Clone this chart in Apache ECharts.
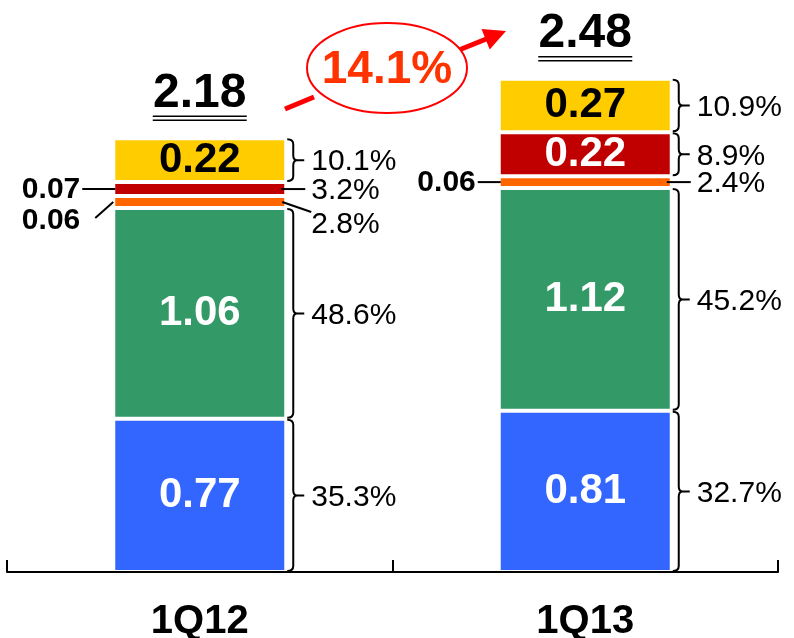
<!DOCTYPE html>
<html><head><meta charset="utf-8">
<script src="https://cdn.jsdelivr.net/npm/echarts@6/dist/echarts.min.js"></script>
<style>html,body{margin:0;padding:0;background:#fff}#c{width:794px;height:638px}</style>
</head><body><div id="c"></div>
<script>
// ---- data ----
const categories = ['1Q12', '1Q13'];
const seriesNames = ['Blue', 'Green', 'Orange', 'Red', 'Yellow'];
const blueValues = [0.77, 0.81];
const greenValues = [1.06, 1.12];
const orangeValues = [0.06, 0.06];
const redValues = [0.07, 0.22];
const yellowValues = [0.22, 0.27];
const totals = [2.18, 2.48];
const bluePct = [35.3, 32.7];
const greenPct = [48.6, 45.2];
const orangePct = [2.8, 2.4];
const redPct = [3.2, 8.9];
const yellowPct = [10.1, 10.9];
const growthLabel = '14.1%';

// ---- styling ----
const FONT = '"Liberation Sans", Arial, sans-serif';
const values = [blueValues, greenValues, orangeValues, redValues, yellowValues];
const pcts = [bluePct, greenPct, orangePct, redPct, yellowPct];
const colors = ['#3366FF', '#339966', '#FF6600', '#C00000', '#FFCC00'];
const labelColors = ['#fff', '#fff', '#fff', '#fff', '#000'];
const BAR_W = 173;
const PCT_FONT = '30px ' + FONT;
// right-hand annotation mark per [category][segment]
const rightMark = [
  ['brace', 'brace', 'slant', 'line', 'brace'],
  ['brace', 'brace', 'line', 'brace', 'brace']
];
const leftGap = [33, 23];

const chart = echarts.init(document.getElementById('c'), null, {renderer: 'canvas'});

function segAnnot(params, api) {
  const c = api.value(0), s = api.value(1);
  let base = 0;
  for (let k = 0; k < s; k++) base += values[k][c];
  const top = base + values[s][c];
  const pB = api.coord([c, base]), pT = api.coord([c, top]);
  const xR = pB[0] + BAR_W / 2, xL = pB[0] - BAR_W / 2;
  const y0 = pT[1] + 1, y1 = pB[1] - 1, ym = (y0 + y1) / 2;
  const ch = [];
  const lineStyle = {stroke: '#000', lineWidth: 2, fill: null};
  const pctText = pcts[s][c].toFixed(1) + '%';
  const mark = rightMark[c][s];
  const txt = (text, x, y, align, font) => ({
    type: 'text', silent: true,
    style: {text, x, y, align, textAlign: align, verticalAlign: 'middle', textVerticalAlign: 'middle', fill: '#000', font}
  });
  if (mark === 'brace') {
    const xl = xR + 1, xv = xR + 7, xt = xR + 18;
    const r = Math.min(5, (y1 - y0) / 4);
    const d = 'M' + xl + ',' + y0 + ' Q' + xv + ',' + y0 + ' ' + xv + ',' + (y0 + r) +
      ' L' + xv + ',' + (ym - r) + ' Q' + xv + ',' + ym + ' ' + (xv + 4) + ',' + ym +
      ' Q' + xv + ',' + ym + ' ' + xv + ',' + (ym + r) +
      ' L' + xv + ',' + (y1 - r) + ' Q' + xv + ',' + y1 + ' ' + xl + ',' + y1 +
      ' M' + (xv + 4) + ',' + ym + ' L' + xt + ',' + ym;
    ch.push({type: 'path', shape: {pathData: d}, style: lineStyle, silent: true});
    ch.push(txt(pctText, xR + 25, ym + 2, 'left', PCT_FONT));
  } else if (mark === 'line') {
    ch.push({type: 'line', shape: {x1: xR - 5, y1: ym, x2: xR + 19, y2: ym}, style: lineStyle, silent: true});
    ch.push(txt(pctText, xR + 25, ym + 2, 'left', PCT_FONT));
  } else if (mark === 'slant') {
    ch.push({type: 'line', shape: {x1: xR - 4, y1: ym, x2: xR + 25, y2: ym + 10}, style: lineStyle, silent: true});
    ch.push(txt(pctText, xR + 25, ym + 23, 'left', PCT_FONT));
  }
  // left-hand value label for small segments (no room inside)
  if (values[s][c] < 0.1) {
    const vText = values[s][c].toFixed(2);
    const g = leftGap[c];
    if (mark === 'slant') {
      ch.push({type: 'line', shape: {x1: xL - 18, y1: ym + 16, x2: xL, y2: ym}, style: lineStyle, silent: true});
      ch.push(txt(vText, xL - g, ym + 19, 'right', 'bold 30px ' + FONT));
    } else {
      ch.push({type: 'line', shape: {x1: xL - g + 2, y1: ym, x2: xL + 2, y2: ym}, style: lineStyle, silent: true});
      ch.push(txt(vText, xL - g, ym + 1, 'right', 'bold 30px ' + FONT));
    }
  }
  return {type: 'group', children: ch};
}

function totalAnnot(params, api) {
  const c = api.value(0);
  const p = api.coord([c, totals[c]]);
  const hw = 47;
  const ls = {stroke: '#000', lineWidth: 1.5};
  return {type: 'group', children: [
    {type: 'text', silent: true, style: {text: totals[c].toFixed(2), x: p[0], y: p[1] - 45,
      align: 'center', textAlign: 'center', verticalAlign: 'middle', textVerticalAlign: 'middle',
      fill: '#000', font: 'bold 48px ' + FONT}},
    {type: 'line', silent: true, shape: {x1: p[0] - hw, y1: p[1] - 22, x2: p[0] + hw, y2: p[1] - 22}, style: ls},
    {type: 'line', silent: true, shape: {x1: p[0] - hw, y1: p[1] - 18, x2: p[0] + hw, y2: p[1] - 18}, style: ls}
  ]};
}

const segData = [];
categories.forEach((_, c) => values.forEach((_, s) => segData.push([c, s])));

const barSeries = values.map((vals, s) => ({
  type: 'bar', name: seriesNames[s], stack: 'total', barWidth: BAR_W, z: 2,
  itemStyle: {color: colors[s], borderColor: '#fff', borderWidth: 2},
  label: {
    position: 'inside', color: labelColors[s], fontSize: 42, fontWeight: 'bold', fontFamily: FONT,
    formatter: p => Number(p.value).toFixed(2)
  },
  data: vals.map(v => ({value: v, label: {show: v >= 0.1}}))
}));

// arrow geometry for the growth marker
const tip = [506, 31], from = [459, 50];
const ux = (tip[0] - from[0]), uy = (tip[1] - from[1]);
const ul = Math.hypot(ux, uy), nx = ux / ul, ny = uy / ul;
const hl = 22, hw = 11;
const bc = [tip[0] - hl * nx, tip[1] - hl * ny];

chart.setOption({
  animation: false,
  backgroundColor: '#fff',
  grid: {left: 7, right: 16, top: 15, bottom: 66, containLabel: false, outerBoundsMode: 'none'},
  xAxis: {
    type: 'category', data: categories, z: 5, boundaryGap: true,
    axisLine: {show: true, lineStyle: {color: '#000', width: 2}},
    axisTick: {show: true, inside: true, alignWithLabel: false, interval: 0, length: 12, lineStyle: {color: '#000', width: 2}},
    axisLabel: {color: '#000', fontSize: 40, fontWeight: 'bold', fontFamily: FONT, margin: 30}
  },
  yAxis: {type: 'value', min: 0, max: 2.8, show: false},
  series: barSeries.concat([
    {type: 'custom', renderItem: segAnnot, data: segData, clip: false, z: 4, silent: true,
      encode: {x: 0, y: 1}},
    {type: 'custom', renderItem: totalAnnot, data: categories.map((_, c) => [c, totals[c]]), clip: false, z: 4, silent: true,
      encode: {x: 0, y: 1}}
  ]),
  graphic: [
    {type: 'line', shape: {x1: 285, y1: 109, x2: 314, y2: 97}, style: {stroke: '#FF0000', lineWidth: 5}},
    {type: 'line', shape: {x1: from[0], y1: from[1], x2: bc[0] + 2 * nx, y2: bc[1] + 2 * ny}, style: {stroke: '#FF0000', lineWidth: 5}},
    {type: 'polygon', shape: {points: [tip, [bc[0] - hw * ny, bc[1] + hw * nx], [bc[0] + hw * ny, bc[1] - hw * nx]]}, style: {fill: '#FF0000'}},
    {type: 'ellipse', shape: {cx: 387, cy: 68, rx: 80, ry: 45}, style: {fill: '#fff', stroke: '#FF0000', lineWidth: 2}},
    {type: 'text', style: {text: growthLabel, x: 387, y: 70, align: 'center', textAlign: 'center', verticalAlign: 'middle', textVerticalAlign: 'middle', fill: '#FF3300', font: 'bold 46px ' + FONT}}
  ]
});
</script></body></html>
